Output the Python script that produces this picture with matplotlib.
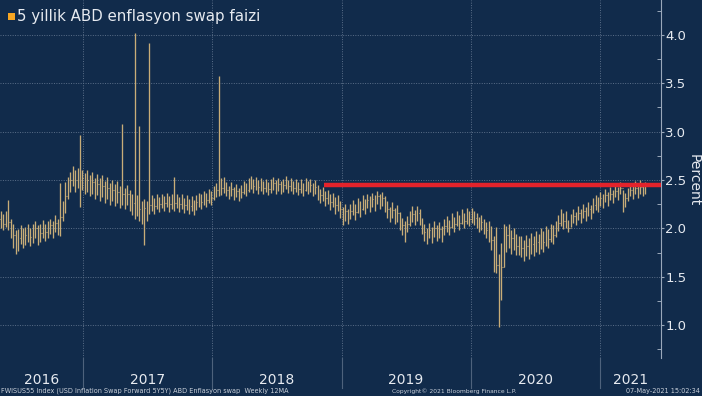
import pandas as pd
import matplotlib
matplotlib.use('Agg')
import matplotlib.pyplot as plt
import matplotlib.dates as mdates
import matplotlib.transforms as mtrans
from matplotlib import font_manager
from matplotlib.patches import Rectangle

# weekly bars, first week ending 2016-05-13
start_week = '2016-05-13'

close = [
    2.10, 2.05, 2.12, 2.07, 2.00, 1.93, 1.86, 1.90, 1.94, 1.88,
    1.93, 1.97, 1.91, 1.96, 2.00, 1.93, 1.95, 2.01, 1.96, 1.99,
    2.03, 1.99, 2.06, 2.02, 2.12, 2.20, 2.33, 2.45, 2.50, 2.56,
    2.50, 2.55, 2.45, 2.52, 2.46, 2.50, 2.44, 2.48, 2.42, 2.46,
    2.40, 2.44, 2.38, 2.42, 2.36, 2.40, 2.35, 2.38, 2.33, 2.36,
    2.32, 2.35, 2.30, 2.26, 2.22, 2.25, 2.20, 2.16, 2.21, 2.19,
    2.24, 2.27, 2.23, 2.28, 2.25, 2.29, 2.26, 2.30, 2.25, 2.28,
    2.26, 2.29, 2.25, 2.28, 2.24, 2.27, 2.23, 2.26, 2.22, 2.27,
    2.30, 2.27, 2.32, 2.29, 2.34, 2.31, 2.37, 2.40, 2.45, 2.42,
    2.46, 2.40, 2.37, 2.41, 2.36, 2.39, 2.35, 2.38, 2.42, 2.40,
    2.45, 2.48, 2.44, 2.47, 2.43, 2.46, 2.42, 2.45, 2.41, 2.44,
    2.47, 2.43, 2.46, 2.42, 2.45, 2.48, 2.44, 2.46, 2.42, 2.45,
    2.41, 2.44, 2.40, 2.46, 2.42, 2.45, 2.40, 2.43, 2.37, 2.34,
    2.36, 2.31, 2.33, 2.27, 2.30, 2.24, 2.27, 2.20, 2.14, 2.18,
    2.12, 2.18, 2.22, 2.17, 2.24, 2.20, 2.27, 2.23, 2.29, 2.25,
    2.30, 2.26, 2.33, 2.28, 2.31, 2.25, 2.20, 2.15, 2.19, 2.13,
    2.16, 2.08, 2.03, 2.00, 2.05, 2.10, 2.15, 2.11, 2.16, 2.12,
    2.03, 1.96, 1.92, 1.98, 1.93, 2.00, 1.95, 1.99, 1.94, 2.02,
    2.05, 2.01, 2.08, 2.04, 2.10, 2.06, 2.12, 2.08, 2.13, 2.10,
    2.14, 2.11, 2.08, 2.04, 2.07, 2.02, 1.98, 2.00, 1.88, 1.70,
    1.62, 1.30, 1.60, 1.85, 1.93, 1.86, 1.90, 1.84, 1.82, 1.78,
    1.80, 1.76, 1.82, 1.78, 1.84, 1.80, 1.86, 1.83, 1.89, 1.86,
    1.92, 1.89, 1.96, 1.93, 2.00, 2.06, 2.12, 2.08, 2.10, 2.00,
    2.08, 2.13, 2.10, 2.16, 2.13, 2.18, 2.15, 2.20, 2.17, 2.24,
    2.27, 2.24, 2.31, 2.28, 2.34, 2.30, 2.36, 2.33, 2.39, 2.36,
    2.42, 2.26, 2.31, 2.36, 2.40, 2.37, 2.42, 2.38, 2.43, 2.40, 2.42,
]

high = [
    2.18, 2.15, 2.18, 2.29, 2.10, 2.04, 1.98, 1.99, 2.03, 2.00,
    2.01, 2.04, 2.00, 2.04, 2.08, 2.03, 2.04, 2.09, 2.05, 2.08,
    2.10, 2.08, 2.14, 2.10, 2.47, 2.28, 2.48, 2.53, 2.58, 2.64,
    2.60, 2.62, 2.96, 2.60, 2.57, 2.60, 2.55, 2.58, 2.52, 2.56,
    2.52, 2.55, 2.49, 2.53, 2.47, 2.50, 2.46, 2.49, 2.44, 3.08,
    2.42, 2.45, 2.40, 2.36, 4.02, 2.34, 3.06, 2.28, 2.30, 2.28,
    3.92, 2.34, 2.31, 2.36, 2.32, 2.36, 2.33, 2.37, 2.33, 2.35,
    2.53, 2.36, 2.32, 2.35, 2.31, 2.34, 2.30, 2.33, 2.29, 2.34,
    2.37, 2.35, 2.39, 2.37, 2.41, 2.39, 2.44, 2.47, 3.57, 2.52,
    2.53, 2.48, 2.44, 2.48, 2.43, 2.46, 2.42, 2.45, 2.49, 2.47,
    2.52, 2.54, 2.51, 2.53, 2.50, 2.52, 2.49, 2.51, 2.48, 2.51,
    2.53, 2.50, 2.52, 2.49, 2.51, 2.54, 2.50, 2.52, 2.49, 2.51,
    2.48, 2.51, 2.47, 2.52, 2.49, 2.51, 2.47, 2.50, 2.45, 2.41,
    2.43, 2.39, 2.40, 2.35, 2.37, 2.32, 2.34, 2.28, 2.22, 2.25,
    2.20, 2.25, 2.29, 2.25, 2.31, 2.28, 2.34, 2.30, 2.36, 2.33,
    2.37, 2.34, 2.39, 2.35, 2.38, 2.33, 2.28, 2.22, 2.27, 2.21,
    2.24, 2.17, 2.11, 2.08, 2.13, 2.18, 2.23, 2.19, 2.23, 2.20,
    2.11, 2.04, 2.00, 2.06, 2.01, 2.08, 2.03, 2.07, 2.02, 2.10,
    2.13, 2.09, 2.16, 2.12, 2.18, 2.14, 2.20, 2.16, 2.21, 2.18,
    2.21, 2.18, 2.16, 2.12, 2.14, 2.10, 2.07, 2.08, 2.02, 1.92,
    2.01, 1.74, 1.85, 2.05, 2.02, 2.04, 1.98, 2.00, 1.94, 1.92,
    1.92, 1.88, 1.93, 1.90, 1.95, 1.92, 1.97, 1.94, 2.00, 1.97,
    2.02, 1.99, 2.05, 2.03, 2.08, 2.14, 2.20, 2.16, 2.18, 2.09,
    2.15, 2.20, 2.17, 2.23, 2.20, 2.25, 2.22, 2.27, 2.24, 2.31,
    2.34, 2.32, 2.38, 2.35, 2.41, 2.38, 2.43, 2.40, 2.46, 2.43,
    2.48, 2.40, 2.37, 2.42, 2.46, 2.44, 2.49, 2.45, 2.50, 2.47, 2.48,
]

low = [
    2.00, 1.98, 2.01, 1.98, 1.90, 1.80, 1.73, 1.77, 1.84, 1.80,
    1.83, 1.86, 1.82, 1.85, 1.90, 1.83, 1.86, 1.90, 1.87, 1.90,
    1.94, 1.90, 1.96, 1.93, 1.92, 2.08, 2.16, 2.30, 2.38, 2.44,
    2.38, 2.42, 2.22, 2.40, 2.35, 2.38, 2.33, 2.36, 2.30, 2.34,
    2.28, 2.32, 2.26, 2.30, 2.24, 2.28, 2.23, 2.26, 2.21, 2.24,
    2.20, 2.24, 2.18, 2.14, 2.10, 2.13, 2.08, 2.05, 1.83, 2.08,
    2.15, 2.18, 2.15, 2.20, 2.17, 2.21, 2.18, 2.22, 2.17, 2.20,
    2.18, 2.21, 2.17, 2.20, 2.16, 2.19, 2.15, 2.18, 2.14, 2.19,
    2.22, 2.20, 2.24, 2.22, 2.26, 2.24, 2.29, 2.32, 2.33, 2.34,
    2.37, 2.33, 2.30, 2.33, 2.29, 2.32, 2.28, 2.31, 2.35, 2.33,
    2.38, 2.41, 2.37, 2.40, 2.36, 2.39, 2.35, 2.38, 2.34, 2.37,
    2.40, 2.36, 2.39, 2.35, 2.38, 2.41, 2.37, 2.39, 2.35, 2.38,
    2.34, 2.37, 2.33, 2.39, 2.35, 2.38, 2.33, 2.36, 2.29, 2.26,
    2.28, 2.23, 2.25, 2.19, 2.22, 2.15, 2.18, 2.11, 2.03, 2.08,
    2.04, 2.10, 2.14, 2.09, 2.16, 2.12, 2.19, 2.15, 2.21, 2.17,
    2.22, 2.18, 2.25, 2.20, 2.23, 2.17, 2.11, 2.07, 2.11, 2.05,
    2.07, 1.98, 1.93, 1.86, 1.96, 2.02, 2.07, 2.03, 2.08, 2.03,
    1.94, 1.87, 1.84, 1.90, 1.85, 1.91, 1.87, 1.90, 1.86, 1.93,
    1.96, 1.93, 2.00, 1.96, 2.02, 1.98, 2.04, 2.00, 2.05, 2.02,
    2.06, 2.03, 2.00, 1.96, 1.98, 1.94, 1.90, 1.86, 1.78, 1.55,
    1.54, 0.98, 1.26, 1.60, 1.76, 1.80, 1.74, 1.78, 1.72, 1.72,
    1.70, 1.66, 1.71, 1.68, 1.74, 1.71, 1.76, 1.73, 1.79, 1.76,
    1.82, 1.80, 1.86, 1.84, 1.91, 1.97, 2.02, 1.99, 2.00, 1.96,
    2.01, 2.06, 2.03, 2.09, 2.06, 2.11, 2.08, 2.13, 2.10, 2.16,
    2.19, 2.17, 2.23, 2.21, 2.27, 2.23, 2.29, 2.26, 2.32, 2.29,
    2.35, 2.17, 2.22, 2.28, 2.33, 2.30, 2.35, 2.31, 2.36, 2.33, 2.35,
]

level = 2.45
level_start = '2018-11-12'
years = [2016, 2017, 2018, 2019, 2020, 2021]
y_ticks = [1.0, 1.5, 2.0, 2.5, 3.0, 3.5, 4.0]

title = '5 yillik ABD enflasyon swap faizi'
footer_left = 'FWISUS55 Index (USD Inflation Swap Forward 5Y5Y) ABD Enflasyon swap  Weekly 12MA'
footer_mid = 'Copyright\u00a9 2021 Bloomberg Finance L.P.'
footer_right = '07-May-2021 15:02:34'

bg = '#112B4B'
bar_col = '#C8AD78'
grid_col = '#5B6F89'
txt_col = '#E6EAF0'

names = {f.name for f in font_manager.fontManager.ttflist}
fam = 'Liberation Sans Narrow' if 'Liberation Sans Narrow' in names else 'DejaVu Sans'
plt.rcParams['font.family'] = [fam, 'DejaVu Sans']

W, H = 702, 396
fig = plt.figure(figsize=(W / 100, H / 100), dpi=100, facecolor=bg)
ax = fig.add_axes([0, 1 - 358 / H, 661 / W, 358 / H], facecolor=bg)

dates = pd.date_range(start_week, periods=len(close), freq='7D')
x = mdates.date2num(dates)
opens = [close[0]] + close[:-1]

ax.vlines(x, low, high, color=bar_col, lw=0.95, zorder=3)
ax.hlines(opens, x - 1.2, x, color=bar_col, lw=0.8, zorder=3)
ax.hlines(close, x, x + 1.2, color=bar_col, lw=0.8, zorder=3)

x0 = mdates.date2num(pd.Timestamp('2016-05-11'))
x1 = mdates.date2num(pd.Timestamp('2021-06-21'))
ax.hlines(level, mdates.date2num(pd.Timestamp(level_start)), x1,
          color='#E3232B', lw=3.2, zorder=4)

ax.set_xlim(x0, x1)
ax.set_ylim(0.66, 4.36)

tr = mtrans.blended_transform_factory(ax.transData, ax.transAxes)

# year boundaries
bounds = [mdates.date2num(pd.Timestamp(f'{y}-01-01')) for y in years[1:]]
for b in bounds:
    ax.axvline(b, color=grid_col, lw=0.7, ls=(0, (1, 1.5)), zorder=1)
    ax.plot([b, b], [0, -0.085], transform=tr, color='#4E627C', lw=0.8, clip_on=False)
for v in y_ticks:
    ax.axhline(v, color=grid_col, lw=0.7, ls=(0, (1, 1.5)), zorder=1)

edges = [x0] + bounds + [x1]
for i, y in enumerate(years):
    if 0 < i < len(years) - 1:
        cx = mdates.date2num(pd.Timestamp(f'{y}-07-02'))
    else:
        cx = (edges[i] + edges[i + 1]) / 2
    ax.text(cx, -0.062, str(y), transform=tr, ha='center', va='center',
            color=txt_col, fontsize=10)

ax.set_xticks([])
ax.yaxis.tick_right()
ax.set_yticks(y_ticks)
ax.set_yticklabels([f'{v:.1f}' for v in y_ticks])
ax.set_yticks([1.25, 1.75, 2.25, 2.75, 3.25, 3.75, 4.25, 0.75], minor=True)
ax.tick_params(axis='y', which='major', direction='out', length=2.5, width=0.8,
               colors='#9AA8BA', labelcolor=txt_col, labelsize=9.5, pad=0.5)
ax.tick_params(axis='y', which='minor', direction='in', length=3, width=0.7, colors='#9AA8BA')
for s in ['top', 'left', 'bottom']:
    ax.spines[s].set_visible(False)
ax.spines['right'].set_color('#9AA8BA')
ax.spines['right'].set_linewidth(0.8)

fig.text(694 / W, 1 - 180 / H, 'Percent', rotation=270, ha='center', va='center',
         color=txt_col, fontsize=10)

fig.patches.append(Rectangle((8 / W, 1 - 20 / H), 7 / W, 7 / H, transform=fig.transFigure,
                             facecolor='#F6A623', edgecolor='none'))
fig.text(17 / W, 1 - 17 / H, title, ha='left', va='center', color=txt_col, fontsize=10.8)

fig.text(1 / W, 1 - 391 / H, footer_left, ha='left', va='center', color='#C9D0DA', fontsize=4.7)
fig.text(392 / W, 1 - 391 / H, footer_mid, ha='left', va='center', color='#C9D0DA', fontsize=4.3)
fig.text(700 / W, 1 - 391 / H, footer_right, ha='right', va='center', color='#C9D0DA', fontsize=4.7)

fig.savefig('out.png', dpi=100, facecolor=bg)
